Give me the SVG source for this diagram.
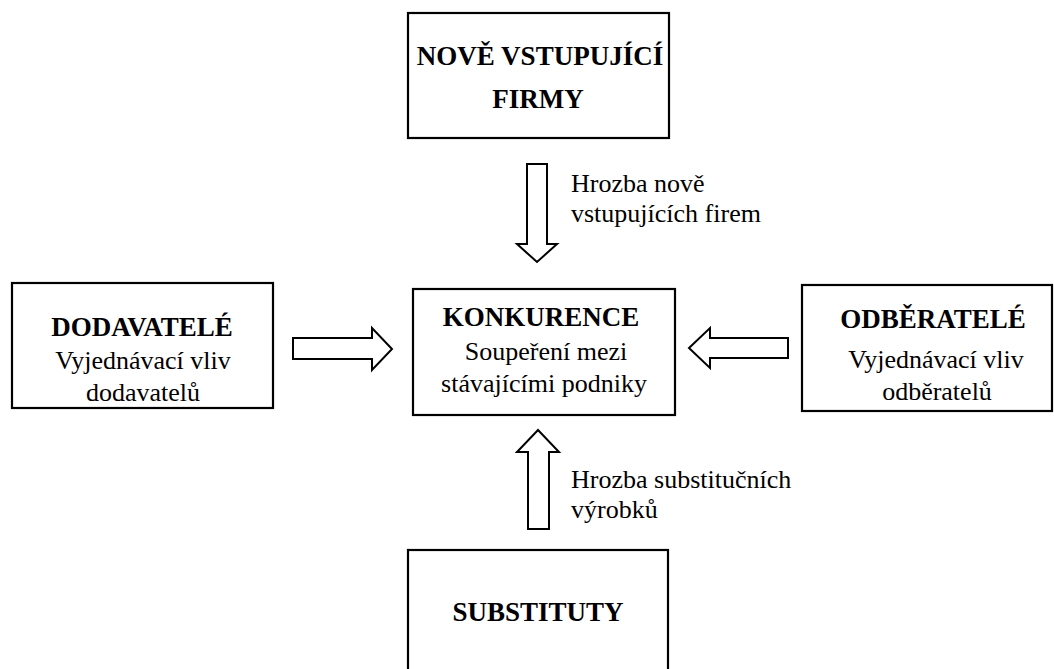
<svg xmlns="http://www.w3.org/2000/svg" width="1054" height="669" viewBox="0 0 1054 669">
  <style>
    .box { fill: #ffffff; stroke: #000000; stroke-width: 2.2; }
    .arrow { fill: #ffffff; stroke: #000000; stroke-width: 2; stroke-linejoin: miter; }
    text { font-family: "Liberation Serif", "Times New Roman", serif; font-size: 26px; fill: #000000; }
    .title { font-weight: bold; font-size: 27px; text-anchor: middle; }
    .sub { text-anchor: middle; }
  </style>
  <rect width="1054" height="669" fill="#ffffff"/>

  <!-- Forces acting on the central box -->
  <g id="connectors">
    <!-- new entrants, pointing down -->
    <polygon class="arrow" points="527,164 547,164 547,244 557,244 537,262 517,244 527,244"/>
    <!-- suppliers, pointing right -->
    <polygon class="arrow" points="293,338 372,338 372,328 392,349 372,370 372,359 293,359"/>
    <!-- buyers, pointing left -->
    <polygon class="arrow" points="788,338 710,338 710,328 689,348 710,368 710,358 788,358"/>
    <!-- substitutes, pointing up -->
    <polygon class="arrow" points="528,529 549,529 549,452 559,452 538,430 517,452 528,452"/>
    <text x="571" y="192">Hrozba nově</text>
    <text x="571" y="222">vstupujících firem</text>
    <text x="571" y="488">Hrozba substitučních</text>
    <text x="571" y="518">výrobků</text>
  </g>

  <g id="node-nove-firmy">
    <rect class="box" x="408" y="13" width="261" height="125"/>
    <text class="title" x="540" y="65">NOVĚ VSTUPUJÍCÍ</text>
    <text class="title" x="538" y="108">FIRMY</text>
  </g>

  <g id="node-dodavatele">
    <rect class="box" x="12" y="283" width="261" height="125"/>
    <text class="title" x="142" y="336">DODAVATELÉ</text>
    <text class="sub" x="143" y="369">Vyjednávací vliv</text>
    <text class="sub" x="143" y="401">dodavatelů</text>
  </g>

  <g id="node-konkurence">
    <rect class="box" x="413" y="289" width="262" height="126"/>
    <text class="title" x="541" y="326">KONKURENCE</text>
    <text class="sub" x="546" y="360">Soupeření mezi</text>
    <text class="sub" x="544" y="392">stávajícími podniky</text>
  </g>

  <g id="node-odberatele">
    <rect class="box" x="802" y="285" width="250" height="126"/>
    <text class="title" x="933" y="328">ODBĚRATELÉ</text>
    <text class="sub" x="936" y="368">Vyjednávací vliv</text>
    <text class="sub" x="937" y="400">odběratelů</text>
  </g>

  <g id="node-substituty">
    <rect class="box" x="408" y="550" width="260" height="130"/>
    <text class="title" x="538" y="621">SUBSTITUTY</text>
  </g>
</svg>
